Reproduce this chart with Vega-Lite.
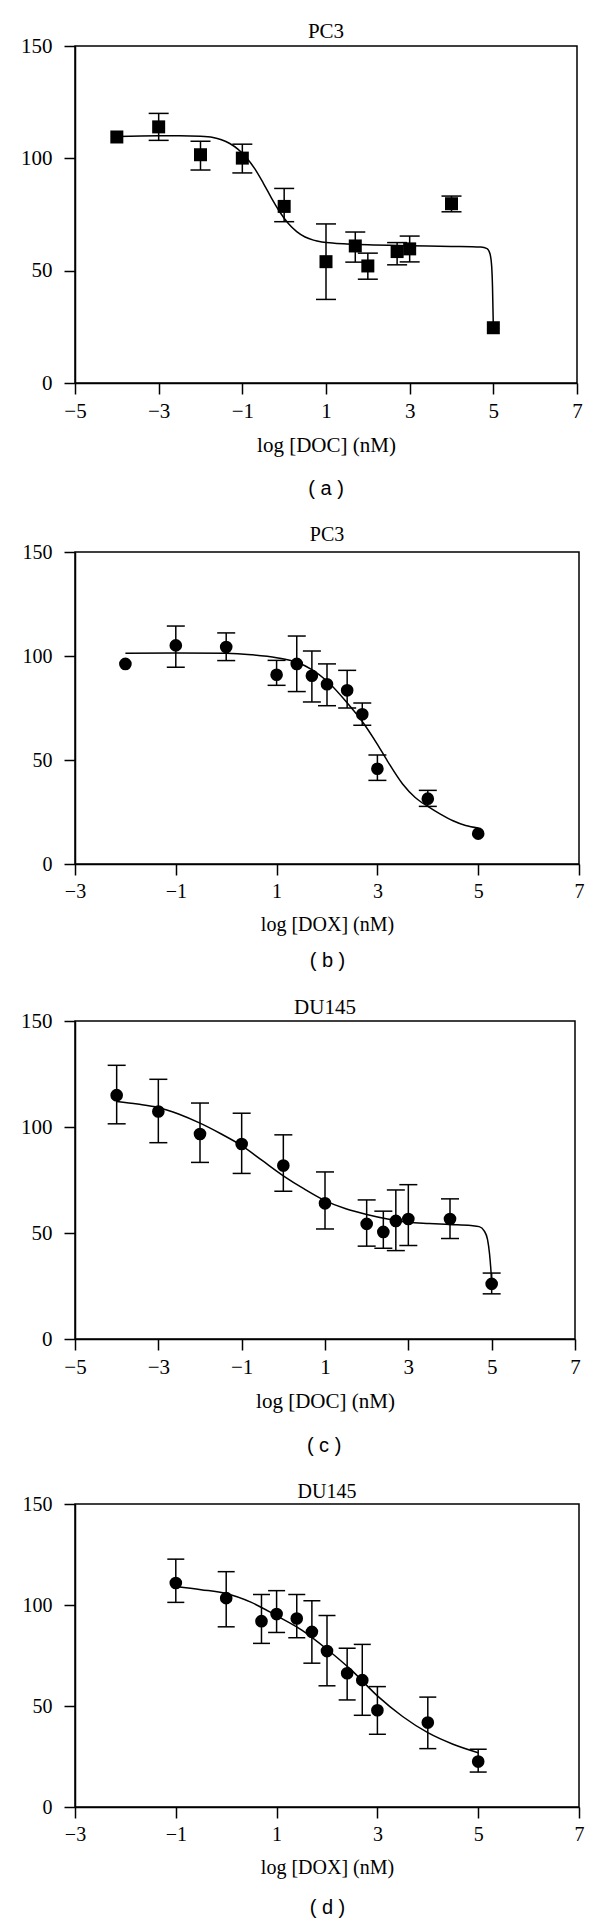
{
  "$schema": "https://vega.github.io/schema/vega-lite/v6.json",
  "background": "white",
  "padding": {"left": 17, "top": 20, "right": 0, "bottom": 0},
  "config": {
    "view": {"stroke": "black", "strokeWidth": 1.5},
    "axis": {"grid": false, "domainColor": "black", "domainWidth": 1.5, "tickColor": "black", "tickWidth": 1.5, "tickSize": 11, "labelColor": "black", "titleColor": "black", "labelFont": "Liberation Serif", "titleFont": "Liberation Serif", "titleFontWeight": "normal", "labelFlush": false, "labelOverlap": false},
    "axisX": {"labelPadding": 6, "titlePadding": 13},
    "axisY": {"labelPadding": 12},
    "title": {"font": "Liberation Serif", "fontWeight": "normal", "color": "black"}
  },
  "datasets": {
    "a_pts": [
      {"x": -4, "y": 109.5, "lo": null, "hi": null},
      {"x": -3, "y": 114.0, "lo": 108.0, "hi": 120.0},
      {"x": -2, "y": 101.6, "lo": 94.8, "hi": 107.6},
      {"x": -1, "y": 100.1, "lo": 93.5, "hi": 106.3},
      {"x": 0, "y": 78.6, "lo": 71.8, "hi": 86.6},
      {"x": 1, "y": 54.0, "lo": 37.2, "hi": 70.8},
      {"x": 1.7, "y": 61.0, "lo": 53.8, "hi": 67.2},
      {"x": 2, "y": 52.1, "lo": 46.2, "hi": 57.8},
      {"x": 2.7, "y": 58.5, "lo": 52.6, "hi": 62.5},
      {"x": 3, "y": 59.7, "lo": 53.9, "hi": 65.4},
      {"x": 4, "y": 79.8, "lo": 76.2, "hi": 83.2},
      {"x": 5, "y": 24.6, "lo": null, "hi": null}
    ],
    "a_curve": [
      {"x": -4, "y": 109.7}, {"x": -3, "y": 110.0}, {"x": -2.5, "y": 110.0}, {"x": -2, "y": 109.8},
      {"x": -1.7, "y": 109.3}, {"x": -1.5, "y": 108.3}, {"x": -1.3, "y": 106.6}, {"x": -1.1, "y": 104.0},
      {"x": -0.9, "y": 100.3}, {"x": -0.7, "y": 95.3}, {"x": -0.5, "y": 89.0}, {"x": -0.3, "y": 82.2},
      {"x": -0.1, "y": 76.0}, {"x": 0.1, "y": 71.0}, {"x": 0.3, "y": 67.4}, {"x": 0.5, "y": 65.0},
      {"x": 0.7, "y": 63.6}, {"x": 0.9, "y": 62.8}, {"x": 1.2, "y": 62.2}, {"x": 1.6, "y": 61.8},
      {"x": 2, "y": 61.5}, {"x": 3, "y": 61.1}, {"x": 4, "y": 60.8}, {"x": 4.7, "y": 60.5},
      {"x": 4.85, "y": 59.8}, {"x": 4.92, "y": 57.5}, {"x": 4.96, "y": 52.0}, {"x": 4.98, "y": 43.0},
      {"x": 5.0, "y": 25.0}
    ],
    "b_pts": [
      {"x": -2, "y": 96.2, "lo": null, "hi": null},
      {"x": -1, "y": 105.1, "lo": 94.6, "hi": 114.4},
      {"x": 0, "y": 104.3, "lo": 97.8, "hi": 111.1},
      {"x": 1, "y": 91.0, "lo": 85.9, "hi": 97.9},
      {"x": 1.4, "y": 96.2, "lo": 82.9, "hi": 109.6},
      {"x": 1.7, "y": 90.5, "lo": 77.9, "hi": 102.4},
      {"x": 2, "y": 86.4, "lo": 76.1, "hi": 96.2},
      {"x": 2.4, "y": 83.5, "lo": 75.0, "hi": 93.1},
      {"x": 2.7, "y": 72.0, "lo": 66.7, "hi": 77.4},
      {"x": 3, "y": 45.8, "lo": 40.2, "hi": 52.4},
      {"x": 4, "y": 31.4, "lo": 27.7, "hi": 35.4},
      {"x": 5, "y": 14.6, "lo": null, "hi": null}
    ],
    "b_curve": [
      {"x": -2, "y": 101.3}, {"x": -1, "y": 101.5}, {"x": 0, "y": 101.3}, {"x": 0.5, "y": 100.6},
      {"x": 1, "y": 99.2}, {"x": 1.4, "y": 97.0}, {"x": 1.7, "y": 93.5}, {"x": 2, "y": 88.0},
      {"x": 2.4, "y": 77.5}, {"x": 2.7, "y": 68.5}, {"x": 3, "y": 57.5}, {"x": 3.2, "y": 49.5},
      {"x": 3.5, "y": 38.5}, {"x": 3.75, "y": 32.0}, {"x": 4, "y": 27.7}, {"x": 4.25, "y": 24.0},
      {"x": 4.5, "y": 20.8}, {"x": 4.75, "y": 18.5}, {"x": 5, "y": 17.3}
    ],
    "c_pts": [
      {"x": -4, "y": 115.0, "lo": 101.5, "hi": 129.1},
      {"x": -3, "y": 107.3, "lo": 92.6, "hi": 122.5},
      {"x": -2, "y": 96.7, "lo": 83.3, "hi": 111.3},
      {"x": -1, "y": 92.0, "lo": 78.1, "hi": 106.5},
      {"x": 0, "y": 81.8, "lo": 69.7, "hi": 96.3},
      {"x": 1, "y": 64.0, "lo": 51.9, "hi": 78.8},
      {"x": 2, "y": 54.3, "lo": 43.8, "hi": 65.6},
      {"x": 2.4, "y": 50.5, "lo": 42.8, "hi": 60.3},
      {"x": 2.7, "y": 55.7, "lo": 41.7, "hi": 70.3},
      {"x": 3, "y": 56.6, "lo": 44.1, "hi": 72.8},
      {"x": 4, "y": 56.6, "lo": 47.4, "hi": 66.1},
      {"x": 5, "y": 26.0, "lo": 21.3, "hi": 31.1}
    ],
    "c_curve": [
      {"x": -4, "y": 112.0}, {"x": -3.5, "y": 110.8}, {"x": -3, "y": 109.2}, {"x": -2.5, "y": 106.0},
      {"x": -2, "y": 101.8}, {"x": -1.5, "y": 96.8}, {"x": -1, "y": 91.2}, {"x": -0.5, "y": 84.1},
      {"x": 0, "y": 77.0}, {"x": 0.5, "y": 70.8}, {"x": 1, "y": 65.3}, {"x": 1.5, "y": 61.4},
      {"x": 2, "y": 58.7}, {"x": 2.5, "y": 56.6}, {"x": 3, "y": 55.1}, {"x": 3.5, "y": 54.5},
      {"x": 4, "y": 54.0}, {"x": 4.5, "y": 53.5}, {"x": 4.7, "y": 53.0}, {"x": 4.82, "y": 51.0},
      {"x": 4.9, "y": 47.0}, {"x": 4.95, "y": 40.0}, {"x": 4.98, "y": 33.0}, {"x": 5, "y": 26.8}
    ],
    "d_pts": [
      {"x": -1, "y": 110.9, "lo": 101.3, "hi": 122.7},
      {"x": 0, "y": 103.4, "lo": 89.2, "hi": 116.5},
      {"x": 0.7, "y": 92.0, "lo": 81.0, "hi": 105.2},
      {"x": 1, "y": 95.5, "lo": 86.4, "hi": 107.1},
      {"x": 1.4, "y": 93.3, "lo": 83.8, "hi": 105.2},
      {"x": 1.7, "y": 86.7, "lo": 71.2, "hi": 102.1},
      {"x": 2, "y": 77.2, "lo": 60.0, "hi": 94.8},
      {"x": 2.4, "y": 66.2, "lo": 53.0, "hi": 78.6},
      {"x": 2.7, "y": 62.8, "lo": 45.4, "hi": 80.5},
      {"x": 3, "y": 47.9, "lo": 36.0, "hi": 59.6},
      {"x": 4, "y": 41.8, "lo": 28.9, "hi": 54.4},
      {"x": 5, "y": 22.5, "lo": 17.3, "hi": 28.6}
    ],
    "d_curve": [
      {"x": -1, "y": 109.2}, {"x": -0.5, "y": 107.6}, {"x": 0, "y": 105.7}, {"x": 0.5, "y": 101.3},
      {"x": 1, "y": 94.7}, {"x": 1.5, "y": 87.6}, {"x": 2, "y": 78.1}, {"x": 2.5, "y": 67.4},
      {"x": 3, "y": 55.0}, {"x": 3.5, "y": 44.8}, {"x": 4, "y": 36.8}, {"x": 4.5, "y": 31.1},
      {"x": 5, "y": 26.9}
    ]
  },
  "spacing": 25,
  "vconcat": [
    {
      "title": {"text": "( a )", "orient": "bottom", "anchor": "middle", "font": "Liberation Sans", "fontSize": 20, "baseline": "middle", "offset": 33, "dx": 25},
      "vconcat": [
        {
          "width": 502, "height": 337,
          "title": {"text": "PC3", "fontSize": 21, "frame": "group", "anchor": "middle", "offset": -7, "dx": 0},
          "encoding": {
            "x": {"field": "x", "type": "quantitative", "scale": {"domain": [-5, 7], "nice": false, "zero": false}, "axis": {"values": [-5, -3, -1, 1, 3, 5, 7], "title": "log [DOC] (nM)", "labelFontSize": 21, "titleFontSize": 21}}
          },
          "layer": [
            {"data": {"name": "a_curve"}, "mark": {"type": "line", "color": "black", "strokeWidth": 1.5, "interpolate": "monotone"},
             "encoding": {"y": {"field": "y", "type": "quantitative", "scale": {"domain": [0, 150], "nice": false}, "axis": {"values": [0, 50, 100, 150], "title": null, "labelFontSize": 21, "minExtent": 55}}}},
            {"data": {"name": "a_pts"}, "mark": {"type": "rule", "color": "black", "strokeWidth": 1.5},
             "encoding": {"y": {"field": "lo", "type": "quantitative", "scale": {"domain": [0, 150], "nice": false}, "title": null}, "y2": {"field": "hi"}}},
            {"data": {"name": "a_pts"}, "mark": {"type": "tick", "orient": "horizontal", "color": "black", "size": 20, "thickness": 1.5, "opacity": 1},
             "encoding": {"y": {"field": "lo", "type": "quantitative", "scale": {"domain": [0, 150], "nice": false}, "title": null}}},
            {"data": {"name": "a_pts"}, "mark": {"type": "tick", "orient": "horizontal", "color": "black", "size": 20, "thickness": 1.5, "opacity": 1},
             "encoding": {"y": {"field": "hi", "type": "quantitative", "scale": {"domain": [0, 150], "nice": false}, "title": null}}},
            {"data": {"name": "a_pts"}, "mark": {"type": "square", "color": "black", "filled": true, "opacity": 1, "size": 169},
             "encoding": {"y": {"field": "y", "type": "quantitative", "scale": {"domain": [0, 150], "nice": false}, "title": null}}}
          ]
        }
      ]
    },
    {
      "title": {"text": "( b )", "orient": "bottom", "anchor": "middle", "font": "Liberation Sans", "fontSize": 20, "baseline": "middle", "offset": 26, "dx": 25},
      "vconcat": [
        {
          "width": 504, "height": 312,
          "title": {"text": "PC3", "fontSize": 20, "frame": "group", "anchor": "middle", "offset": -3, "dx": 0},
          "encoding": {
            "x": {"field": "x", "type": "quantitative", "scale": {"domain": [-3, 7], "nice": false, "zero": false}, "axis": {"values": [-3, -1, 1, 3, 5, 7], "title": "log [DOX] (nM)", "labelFontSize": 20, "titleFontSize": 20}}
          },
          "layer": [
            {"data": {"name": "b_curve"}, "mark": {"type": "line", "color": "black", "strokeWidth": 1.5, "interpolate": "monotone"},
             "encoding": {"y": {"field": "y", "type": "quantitative", "scale": {"domain": [0, 150], "nice": false}, "axis": {"values": [0, 50, 100, 150], "title": null, "labelFontSize": 20, "minExtent": 54}}}},
            {"data": {"name": "b_pts"}, "mark": {"type": "rule", "color": "black", "strokeWidth": 1.5},
             "encoding": {"y": {"field": "lo", "type": "quantitative", "scale": {"domain": [0, 150], "nice": false}, "title": null}, "y2": {"field": "hi"}}},
            {"data": {"name": "b_pts"}, "mark": {"type": "tick", "orient": "horizontal", "color": "black", "size": 18, "thickness": 1.5, "opacity": 1},
             "encoding": {"y": {"field": "lo", "type": "quantitative", "scale": {"domain": [0, 150], "nice": false}, "title": null}}},
            {"data": {"name": "b_pts"}, "mark": {"type": "tick", "orient": "horizontal", "color": "black", "size": 18, "thickness": 1.5, "opacity": 1},
             "encoding": {"y": {"field": "hi", "type": "quantitative", "scale": {"domain": [0, 150], "nice": false}, "title": null}}},
            {"data": {"name": "b_pts"}, "mark": {"type": "circle", "color": "black", "opacity": 1, "size": 160},
             "encoding": {"y": {"field": "y", "type": "quantitative", "scale": {"domain": [0, 150], "nice": false}, "title": null}}}
          ]
        }
      ]
    },
    {
      "title": {"text": "( c )", "orient": "bottom", "anchor": "middle", "font": "Liberation Sans", "fontSize": 20, "baseline": "middle", "offset": 34, "dx": 25},
      "vconcat": [
        {
          "width": 500, "height": 318,
          "title": {"text": "DU145", "fontSize": 21, "frame": "group", "anchor": "middle", "offset": -8, "dx": 0},
          "encoding": {
            "x": {"field": "x", "type": "quantitative", "scale": {"domain": [-5, 7], "nice": false, "zero": false}, "axis": {"values": [-5, -3, -1, 1, 3, 5, 7], "title": "log [DOC] (nM)", "labelFontSize": 21, "titleFontSize": 21}}
          },
          "layer": [
            {"data": {"name": "c_curve"}, "mark": {"type": "line", "color": "black", "strokeWidth": 1.5, "interpolate": "monotone"},
             "encoding": {"y": {"field": "y", "type": "quantitative", "scale": {"domain": [0, 150], "nice": false}, "axis": {"values": [0, 50, 100, 150], "title": null, "labelFontSize": 21, "minExtent": 57}}}},
            {"data": {"name": "c_pts"}, "mark": {"type": "rule", "color": "black", "strokeWidth": 1.5},
             "encoding": {"y": {"field": "lo", "type": "quantitative", "scale": {"domain": [0, 150], "nice": false}, "title": null}, "y2": {"field": "hi"}}},
            {"data": {"name": "c_pts"}, "mark": {"type": "tick", "orient": "horizontal", "color": "black", "size": 18, "thickness": 1.5, "opacity": 1},
             "encoding": {"y": {"field": "lo", "type": "quantitative", "scale": {"domain": [0, 150], "nice": false}, "title": null}}},
            {"data": {"name": "c_pts"}, "mark": {"type": "tick", "orient": "horizontal", "color": "black", "size": 18, "thickness": 1.5, "opacity": 1},
             "encoding": {"y": {"field": "hi", "type": "quantitative", "scale": {"domain": [0, 150], "nice": false}, "title": null}}},
            {"data": {"name": "c_pts"}, "mark": {"type": "circle", "color": "black", "opacity": 1, "size": 160},
             "encoding": {"y": {"field": "y", "type": "quantitative", "scale": {"domain": [0, 150], "nice": false}, "title": null}}}
          ]
        }
      ]
    },
    {
      "title": {"text": "( d )", "orient": "bottom", "anchor": "middle", "font": "Liberation Sans", "fontSize": 20, "baseline": "middle", "offset": 30, "dx": 25},
      "vconcat": [
        {
          "width": 504, "height": 303,
          "title": {"text": "DU145", "fontSize": 20, "frame": "group", "anchor": "middle", "offset": -8, "dx": 0},
          "encoding": {
            "x": {"field": "x", "type": "quantitative", "scale": {"domain": [-3, 7], "nice": false, "zero": false}, "axis": {"values": [-3, -1, 1, 3, 5, 7], "title": "log [DOX] (nM)", "labelFontSize": 20, "titleFontSize": 20}}
          },
          "layer": [
            {"data": {"name": "d_curve"}, "mark": {"type": "line", "color": "black", "strokeWidth": 1.5, "interpolate": "monotone"},
             "encoding": {"y": {"field": "y", "type": "quantitative", "scale": {"domain": [0, 150], "nice": false}, "axis": {"values": [0, 50, 100, 150], "title": null, "labelFontSize": 20, "minExtent": 54}}}},
            {"data": {"name": "d_pts"}, "mark": {"type": "rule", "color": "black", "strokeWidth": 1.5},
             "encoding": {"y": {"field": "lo", "type": "quantitative", "scale": {"domain": [0, 150], "nice": false}, "title": null}, "y2": {"field": "hi"}}},
            {"data": {"name": "d_pts"}, "mark": {"type": "tick", "orient": "horizontal", "color": "black", "size": 17, "thickness": 1.5, "opacity": 1},
             "encoding": {"y": {"field": "lo", "type": "quantitative", "scale": {"domain": [0, 150], "nice": false}, "title": null}}},
            {"data": {"name": "d_pts"}, "mark": {"type": "tick", "orient": "horizontal", "color": "black", "size": 17, "thickness": 1.5, "opacity": 1},
             "encoding": {"y": {"field": "hi", "type": "quantitative", "scale": {"domain": [0, 150], "nice": false}, "title": null}}},
            {"data": {"name": "d_pts"}, "mark": {"type": "circle", "color": "black", "opacity": 1, "size": 160},
             "encoding": {"y": {"field": "y", "type": "quantitative", "scale": {"domain": [0, 150], "nice": false}, "title": null}}}
          ]
        }
      ]
    }
  ]
}
